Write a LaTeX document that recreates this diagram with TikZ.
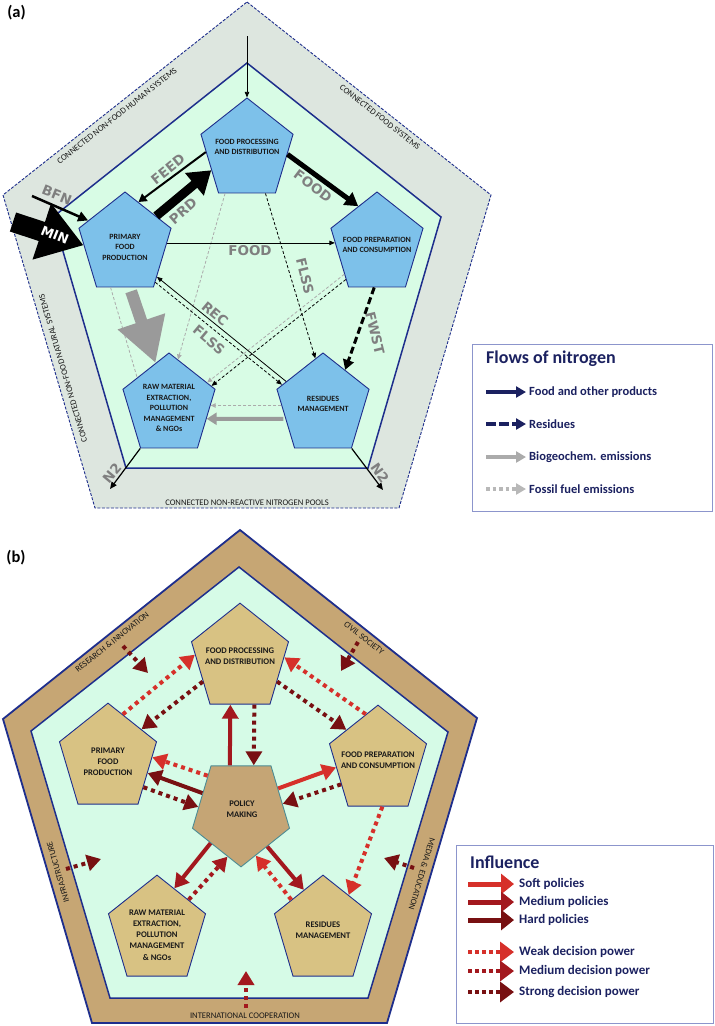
\documentclass[tikz,border=0pt]{standalone}
\usepackage{fontspec}
\setmainfont{Carlito}
\newfontfamily\lblfont{DejaVu Sans}
\usetikzlibrary{shapes.geometric,arrows.meta}
\definecolor{bandA}{HTML}{DDE6DF}
\definecolor{mintA}{HTML}{D8FCE5}
\definecolor{mintB}{HTML}{D6FBE7}
\definecolor{pblue}{HTML}{7DC1EA}
\definecolor{pnavy}{HTML}{1E2E8C}
\definecolor{lnavy}{HTML}{1B2160}
\definecolor{legbox}{HTML}{8C95CC}
\definecolor{lgray}{HTML}{7F7F7F}
\definecolor{fgray}{HTML}{ABABAB}
\definecolor{bgray}{HTML}{9A9A9A}
\definecolor{bandB}{HTML}{C6A674}
\definecolor{ptan}{HTML}{D8C283}
\definecolor{poltan}{HTML}{C5A575}
\definecolor{polbd}{HTML}{4C8C94}
\definecolor{softc}{HTML}{D6302A}
\definecolor{medc}{HTML}{A3181E}
\definecolor{hardc}{HTML}{781012}
\begin{document}
\begin{tikzpicture}[x=1pt,y=-1pt,
  pentA/.style={regular polygon, regular polygon sides=5, minimum size=96.8pt, inner sep=0pt, yscale=1.085, draw=pnavy, fill=pblue, line width=0.9pt},
  pentB/.style={regular polygon, regular polygon sides=5, minimum size=102pt, inner sep=0pt, yscale=1.095, draw=pnavy, fill=ptan, line width=0.9pt},
  ptxtA/.style={font=\bfseries\fontsize{8}{10.5}\selectfont, align=center, text=black!90, inner sep=0pt},
  ptxtB/.style={font=\bfseries\fontsize{8.6}{11.2}\selectfont, align=center, text=black!90, inner sep=0pt},
  bandtxt/.style={font=\fontsize{8.6}{10}\selectfont, text=black!90, inner sep=0pt},
  flowlbl/.style={font=\lblfont\bfseries\fontsize{13.5}{14}\selectfont, text=lgray, inner sep=0pt},
  panellbl/.style={font=\bfseries\fontsize{16.5}{18}\selectfont, inner sep=0pt},
  legtitle/.style={font=\bfseries\fontsize{18}{20}\selectfont, text=lnavy, anchor=west, inner sep=0pt},
  legitemA/.style={font=\bfseries\fontsize{12.5}{14}\selectfont, text=lnavy, anchor=west, inner sep=0pt},
  legitemB/.style={font=\bfseries\fontsize{13}{14}\selectfont, text=lnavy, anchor=west, inner sep=0pt},
  thinA/.style={black, line width=0.8pt, -{Triangle[length=5.5pt,width=4.5pt]}},
  thindA/.style={thinA, dash pattern=on 3pt off 2pt},
  grayd/.style={fgray, line width=0.8pt, dash pattern=on 3pt off 2pt, -{Triangle[length=5pt,width=4.5pt]}},
  polS/.style={#1, line width=4pt, -{Triangle[length=14pt,width=16pt]}},
  decD/.style={#1, line width=4pt, dash pattern=on 4pt off 4pt, -{Triangle[length=14pt,width=16pt]}},
  legS/.style={#1, line width=5pt, -{Triangle[length=13pt,width=20pt]}},
  legD/.style={#1, line width=4.5pt, dash pattern=on 4pt off 3pt, -{Triangle[length=14pt,width=20pt]}},
]
\fill[white] (0,0) rectangle (715,1026);
\useasboundingbox (0,0) rectangle (715,1026);

%================ PANEL (a) ================
\node[panellbl] (labA) at (16.5,12.5) {(a)};
\draw[fill=bandA, draw=pnavy, line width=0.9pt, dash pattern=on 3pt off 1.5pt]
  (247,2) -- (491,195) -- (399,508) -- (95,508) -- (3,195) -- cycle;
\draw[fill=mintA, draw=pnavy, line width=1.5pt]
  (247,63) -- (441,217) -- (368,468) -- (126,468) -- (53,217) -- cycle;

\node[bandtxt, rotate=38.3] (bl1) at (117,116) {CONNECTED NON-FOOD HUMAN SYSTEMS};
\node[bandtxt, rotate=-38.3] (bl2) at (380,117) {CONNECTED FOOD SYSTEMS};
\node[bandtxt, rotate=106.4] (bl3) at (63,368) {CONNECTED NON-FOOD NATURAL SYSTEMS};
\node[bandtxt] (bl4) at (247,503) {CONNECTED NON-REACTIVE NITROGEN POOLS};

\node[pentA] (fp) at (247,150.5) {};
\node[pentA] (pp) at (125,244.5) {};
\node[pentA] (pc) at (377,244.5) {};
\node[pentA] (rm) at (169,405.5) {};
\node[pentA] (rs) at (323,405.5) {};
\node[ptxtA] (fpt) at (247,147) {FOOD PROCESSING\\AND DISTRIBUTION};
\node[ptxtA] (ppt) at (125,247) {PRIMARY\\FOOD\\PRODUCTION};
\node[ptxtA] (pct) at (377,245) {FOOD PREPARATION\\AND CONSUMPTION};
\node[ptxtA] (rmt) at (169,408) {RAW MATERIAL\\EXTRACTION,\\POLLUTION\\MANAGEMENT\\\& NGOs};
\node[ptxtA] (rst) at (323,404) {RESIDUES\\MANAGEMENT};

\coordinate (topA) at (247,36);
\coordinate (n2l) at (110,489);
\coordinate (n2r) at (383,490);
\coordinate (bfnS) at (32,196);
\coordinate (minS) at (13,222);

% flows
\draw[thinA] (topA) -- (fp.corner 1);
\draw[fgray, line width=0.8pt, dash pattern=on 3pt off 2pt] (pp.250) -- (rm.141);
\draw[grayd] (fp.241) -- (rm.78);
\draw[grayd] (pc.220) -- (rm.29);
\draw[grayd] (rs.180) -- (rm.0);
\draw[thindA] (fp.295) -- (rs.100);
\draw[thinA] (rs.149) -- (pp.317);
\draw[thindA] (pp.311) -- (rs.155);
\draw[thindA] (pc.226) -- (rm.23);
\draw[thinA] (pp.2) -- (pc.178);
\draw[black, line width=2pt, -{Triangle[length=8pt,width=9pt]}] (fp.182) -- (pp.71);
\draw[black, line width=9pt, -{Triangle[length=22pt,width=28pt]}] (pp.40) -- (fp.207);
\draw[black, line width=5pt, -{Triangle[length=13pt,width=15pt]}] (fp.355) -- (pc.118);
\draw[black, line width=3pt, dash pattern=on 7pt off 3.5pt, -{Triangle[length=10pt,width=11pt]}] (pc.266) -- (rs.56);
\draw[bgray, line width=12pt, -{Triangle[length=44pt,width=47pt]}, shorten <=4pt] (pp.277) -- (rm.109);
\draw[bgray, line width=4pt, -{Triangle[length=10pt,width=12pt]}, shorten <=2pt] (rs.198) -- (rm.342);
\draw[black, line width=1.2pt, -{Triangle[length=7pt,width=6pt]}] (rm.corner 3) -- (n2l);
\draw[black, line width=1.2pt, -{Triangle[length=7pt,width=6pt]}] (rs.corner 4) -- (n2r);
\draw[black, line width=20pt, -{Triangle[length=44pt,width=56pt]}] (minS) -- (pp.181);
\draw[black, line width=2.5pt, -{Triangle[length=10pt,width=10pt]}] (bfnS) -- (pp.149);

\node[flowlbl, rotate=39] (lFEED) at (168,169) {FEED};
\node[flowlbl, rotate=41] (lPRD) at (183,211) {PRD};
\node[flowlbl, rotate=-37] (lFOOD1) at (313,186) {FOOD};
\node[flowlbl] (lFOOD2) at (250,251) {FOOD};
\node[flowlbl, rotate=-76] (lFLSS1) at (305,276) {FLSS};
\node[flowlbl, rotate=-40] (lREC) at (215,314) {REC};
\node[flowlbl, rotate=-40] (lFLSS2) at (209,340) {FLSS};
\node[flowlbl, rotate=-76] (lFWST) at (375,333) {FWST};
\node[flowlbl, rotate=50] (lN2a) at (112,473) {N2};
\node[flowlbl, rotate=-55] (lN2b) at (380,473) {N2};
\node[flowlbl, rotate=-22] (lBFN) at (57,195) {BFN};
\node[font=\lblfont\bfseries\fontsize{13}{14}\selectfont, text=white, inner sep=0pt, rotate=-22] (lMIN) at (55,235) {MIN};

% legend (a)
\draw[legbox, fill=white, line width=0.8pt] (472,344) rectangle (712,511);
\node[legtitle] (legAt) at (486,359) {Flows of nitrogen};
\coordinate (la1s) at (486,392); \coordinate (la1e) at (526,392);
\coordinate (la2s) at (486,424); \coordinate (la2e) at (526,424);
\coordinate (la3s) at (486,457); \coordinate (la3e) at (526,457);
\coordinate (la4s) at (486,489); \coordinate (la4e) at (526,489);
\draw[lnavy, line width=3.5pt, -{Triangle[length=10pt,width=11pt]}] (la1s) -- (la1e);
\draw[lnavy, line width=3.5pt, dash pattern=on 10pt off 3pt, -{Triangle[length=10pt,width=11pt]}] (la2s) -- (la2e);
\draw[fgray, line width=3.5pt, -{Triangle[length=10pt,width=11pt]}] (la3s) -- (la3e);
\draw[fgray!85, line width=3.5pt, dash pattern=on 3.5pt off 3pt, -{Triangle[length=10pt,width=11pt]}] (la4s) -- (la4e);
\node[legitemA] (la1) at (529,392) {Food and other products};
\node[legitemA] (la2) at (529,424) {Residues};
\node[legitemA] (la3) at (529,457) {Biogeochem. emissions};
\node[legitemA] (la4) at (529,489) {Fossil fuel emissions};

%================ PANEL (b) ================
\node[panellbl] (labB) at (16,558) {(b)};
\draw[fill=bandB, draw=pnavy, line width=1.8pt]
  (240,530) -- (477,718) -- (387,1023) -- (92,1023) -- (3,719) -- cycle;
\draw[fill=mintB, draw=pnavy, line width=1.5pt]
  (239,567) -- (448,732) -- (368,998) -- (110,998) -- (31,731) -- cycle;

\node[bandtxt, rotate=38.5] (bR) at (112,642) {RESEARCH \& INNOVATION};
\node[bandtxt, rotate=-38.5] (bC) at (364,638) {CIVIL SOCIETY};
\node[bandtxt, rotate=106.3] (bI) at (58,872) {INFRASTRUCTURE};
\node[bandtxt, rotate=-106.3] (bM) at (422,874) {MEDIA \& EDUCATION};
\node[bandtxt] (bIC) at (245,1016) {INTERNATIONAL COOPERATION};

\node[pentB] (fpb) at (240,659) {};
\node[pentB] (ppb) at (108,759) {};
\node[pentB] (pcb) at (378,761) {};
\node[pentB] (rmb) at (157,931) {};
\node[pentB] (rsb) at (323,931) {};
\node[pentB, shape border rotate=180, fill=poltan, draw=polbd] (pm) at (241,811) {};
\node[ptxtB] (fpbt) at (240,656) {FOOD PROCESSING\\AND DISTRIBUTION};
\node[ptxtB] (ppbt) at (108,762) {PRIMARY\\FOOD\\PRODUCTION};
\node[ptxtB] (pcbt) at (378,760) {FOOD PREPARATION\\AND CONSUMPTION};
\node[ptxtB] (rmbt) at (157,935) {RAW MATERIAL\\EXTRACTION,\\POLLUTION\\MANAGEMENT\\\& NGOs};
\node[ptxtB] (rsbt) at (323,930) {RESIDUES\\MANAGEMENT};
\node[ptxtB] (pmt) at (242,809) {POLICY\\MAKING};

\coordinate (rsS) at (123,646); \coordinate (rsE) at (148,673);
\coordinate (cvS) at (358,642); \coordinate (cvE) at (341,671);
\coordinate (inS) at (66,869);  \coordinate (inE) at (101,859);
\coordinate (mdS) at (414,868); \coordinate (mdE) at (384,858);
\coordinate (icS) at (246,1008); \coordinate (icE) at (246,971);

\draw[decD=hardc] (rsS) -- (rsE);
\draw[decD=hardc] (cvS) -- (cvE);
\draw[decD=hardc] (inS) -- (inE);
\draw[decD=hardc] (mdS) -- (mdE);
\draw[decD=medc] (icS) -- (icE);

\draw[decD=softc] (ppb.70) -- (fpb.175);
\draw[decD=hardc] (fpb.209) -- (ppb.39);
\draw[decD=softc] (pcb.106) -- (fpb.2);
\draw[decD=hardc] (fpb.331) -- (pcb.138);
\draw[polS=medc] (pm.105) -- (fpb.257);
\draw[decD=hardc] (fpb.289) -- (pm.73);
\draw[decD=softc] (pm.136) -- (ppb.2);
\draw[polS=hardc] (pm.157) -- (ppb.342);
\draw[decD=hardc] (ppb.324) -- (pm.175);
\draw[polS=softc] (pm.29) -- (pcb.188);
\draw[decD=hardc] (pcb.210) -- (pm.9);
\draw[decD=softc] (pcb.276) -- (rsb.52);
\draw[polS=medc] (pm.224) -- (rmb.66);
\draw[decD=medc] (rmb.42) -- (pm.252);
\draw[polS=medc] (pm.309) -- (rsb.117);
\draw[decD=softc] (rsb.138) -- (pm.290);

% legend (b)
\draw[legbox, fill=white, line width=0.8pt] (456,845) rectangle (713,1023);
\node[legtitle] (legBt) at (470,862) {Influence};
\coordinate (lb1s) at (468,884); \coordinate (lb1e) at (514,884);
\coordinate (lb2s) at (468,902); \coordinate (lb2e) at (514,902);
\coordinate (lb3s) at (468,920); \coordinate (lb3e) at (514,920);
\coordinate (lb4s) at (468,952); \coordinate (lb4e) at (514,952);
\coordinate (lb5s) at (468,971); \coordinate (lb5e) at (514,971);
\coordinate (lb6s) at (468,992); \coordinate (lb6e) at (514,992);
\draw[legS=softc] (lb1s) -- (lb1e);
\draw[legS=medc] (lb2s) -- (lb2e);
\draw[legS=hardc] (lb3s) -- (lb3e);
\draw[legD=softc] (lb4s) -- (lb4e);
\draw[legD=medc] (lb5s) -- (lb5e);
\draw[legD=hardc] (lb6s) -- (lb6e);
\node[legitemB] (lb1) at (519,884) {Soft policies};
\node[legitemB] (lb2) at (519,902) {Medium policies};
\node[legitemB] (lb3) at (519,920) {Hard policies};
\node[legitemB] (lb4) at (519,952) {Weak decision power};
\node[legitemB] (lb5) at (519,971) {Medium decision power};
\node[legitemB] (lb6) at (519,992) {Strong decision power};
\end{tikzpicture}
\end{document}
